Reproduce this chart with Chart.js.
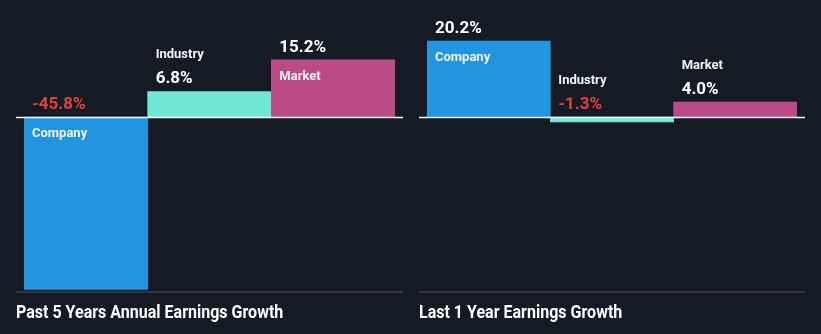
<!DOCTYPE html>
<html>
<head>
<meta charset="utf-8">
<script src="https://cdn.jsdelivr.net/npm/chart.js@4.4.0/dist/chart.umd.min.js"></script>
<style>
    html, body { margin: 0; padding: 0; background: #151b25; }
    #wrap { position: relative; width: 821px; height: 334px; overflow: hidden; }
    .panel { position: absolute; top: 0; width: 410px; height: 334px; }
    .title {
        position: absolute; top: 301px;
        font-family: "Roboto", sans-serif;
        font-weight: bold; font-size: 18px; color: #ffffff;
        white-space: nowrap;
        transform: scaleX(0.89); transform-origin: left top;
    }
</style>
</head>
<body>
<div id="wrap">
    <div class="panel" style="left:0"><canvas id="pastChart" width="410" height="334"></canvas></div>
    <div class="panel" style="left:411px"><canvas id="lastChart" width="410" height="334"></canvas></div>
    <div class="title" id="title0" style="left:16px"></div>
    <div class="title" id="title1" style="left:419px"></div>
</div>
<script>
const categories = ['Company', 'Industry', 'Market'];
const past5Years = [-45.8, 6.8, 15.2];
const last1Year = [20.2, -1.3, 4.0];
const panelTitles = ['Past 5 Years Annual Earnings Growth', 'Last 1 Year Earnings Growth'];

const barColors = ['#2394df', '#71e7d6', '#bb4a86'];

// labels, zero line and base line drawn on top of the bars
const labelPlugin = {
    id: 'barLabels',
    afterDatasetsDraw(chart) {
        const ctx = chart.ctx;
        const area = chart.chartArea;
        const yScale = chart.scales.y;
        const zeroY = Math.round(yScale.getPixelForValue(0)) + 0.5;
        const values = chart.data.datasets[0].data;
        const meta = chart.getDatasetMeta(0);

        ctx.save();
        // bottom line
        ctx.strokeStyle = '#3b414b';
        ctx.lineWidth = 1.5;
        ctx.beginPath();
        ctx.moveTo(area.left - 8, area.bottom);
        ctx.lineTo(area.right + 8, area.bottom);
        ctx.stroke();

        // zero line
        ctx.strokeStyle = '#ffffff';
        ctx.lineWidth = 1.5;
        ctx.beginPath();
        ctx.moveTo(area.left - 8, zeroY);
        ctx.lineTo(area.right + 8, zeroY);
        ctx.stroke();

        ctx.textAlign = 'left';
        ctx.textBaseline = 'alphabetic';
        meta.data.forEach((bar, i) => {
            const v = values[i];
            const left = bar.x - bar.width / 2 + 8;
            const h = Math.abs(bar.base - bar.y);
            const text = v.toFixed(1) + '%';
            let valueY;
            if (v >= 0) {
                valueY = bar.y - 8;
            } else {
                valueY = bar.base - 8;
            }
            ctx.font = 'bold 17px Roboto';
            ctx.fillStyle = v < 0 ? '#e5413f' : '#ffffff';
            ctx.fillText(text, left, valueY);

            ctx.font = 'bold 13px Roboto';
            ctx.fillStyle = '#f2f2f2';
            if (h > 40) {
                const top = v >= 0 ? bar.y : bar.base;
                ctx.fillText(categories[i], left, top + 20);
            } else {
                ctx.fillText(categories[i], left, valueY - 25);
            }
        });
        ctx.restore();
    }
};

function makeChart(id, data, padLeft, padRight) {
    const ctx = document.getElementById(id).getContext('2d');
    return new Chart(ctx, {
        type: 'bar',
        data: {
            labels: categories,
            datasets: [{
                data: data,
                backgroundColor: barColors,
                borderWidth: 0,
                barPercentage: 1,
                categoryPercentage: 1
            }]
        },
        options: {
            responsive: false,
            animation: false,
            layout: { padding: { left: padLeft, right: padRight, top: 20, bottom: 42 } },
            plugins: {
                legend: { display: false },
                tooltip: { enabled: false }
            },
            scales: {
                x: { display: false },
                y: { display: false, min: -46.5, max: 25.8 }
            }
        },
        plugins: [labelPlugin]
    });
}

document.getElementById('title0').textContent = panelTitles[0];
document.getElementById('title1').textContent = panelTitles[1];

makeChart('pastChart', past5Years, 24, 15);
makeChart('lastChart', last1Year, 16, 24);
</script>
</body>
</html>
